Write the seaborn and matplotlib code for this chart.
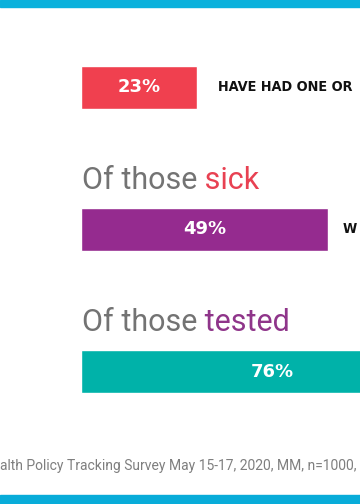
import matplotlib
matplotlib.use("Agg")
import matplotlib.pyplot as plt
import seaborn as sns
import pandas as pd
from matplotlib.patches import Rectangle

# data
groups = ["All adults", "Of those sick", "Of those tested"]
pct = [23, 49, 76]
bar_colors = ["#f0404f", "#952b8f", "#00b2a9"]
# only the part of each statement that is visible inside the frame
statements = ["HAVE HAD ONE OR", "W", ""]
headings = [None, ("Of those", "sick", "#e84152"), ("Of those", "tested", "#8f358a")]
source = "alth Policy Tracking Survey May 15-17, 2020, MM, n=1000,"

sns.set_theme(style="white")
plt.rcParams["font.family"] = ["DejaVu Sans"]

df = pd.DataFrame({"group": groups, "pct": pct})

fig = plt.figure(figsize=(3.6, 5.04), dpi=100)
ax = fig.add_axes([0, 0, 1, 1])

sns.barplot(data=df, x="pct", y="group", hue="group", palette=bar_colors,
            orient="h", width=0.303, legend=False, ax=ax, saturation=1)

ax.set_xlim(-16.07, 55.36)
ax.set_ylim(2.933, -0.616)
ax.axis("off")

label_gap = [21, 15, 15]  # pixels between bar end and statement
for i, (v, s) in enumerate(zip(pct, statements)):
    ax.text(v / 2, i, f"{v}%", ha="center", va="center", color="white",
            fontsize=13, fontweight="bold")
    if s:
        ax.annotate(s, xy=(v, i), xytext=(label_gap[i] * 0.72, 0),
                    textcoords="offset points", ha="left", va="center",
                    fontsize=10.4, fontweight="bold", fontstretch="condensed",
                    color="#111111", family=["DejaVu Sans"])
    if headings[i]:
        pre, word, col = headings[i]
        t = ax.text(0.15, i - 0.285, pre, ha="left", va="baseline",
                    fontsize=22, color="#737373", family=["Roboto", "DejaVu Sans"])
        ax.annotate(" " + word, xy=(1, 0), xycoords=t, ha="left", va="bottom",
                    fontsize=22, color=col, family=["Roboto", "DejaVu Sans"])

# blue bands top and bottom
fig.patches.append(Rectangle((0, 1 - 7 / 504), 1, 7 / 504, transform=fig.transFigure,
                             color="#0ab1dc", zorder=5))
fig.patches.append(Rectangle((0, 0), 1, 9 / 504, transform=fig.transFigure,
                             color="#08acd9", zorder=5))

fig.text(0.0, 1 - 470 / 504, source, ha="left", va="baseline", fontsize=10.0,
         color="#7f7f7f", family=["Roboto", "DejaVu Sans"])

fig.savefig("out.png", dpi=100)
